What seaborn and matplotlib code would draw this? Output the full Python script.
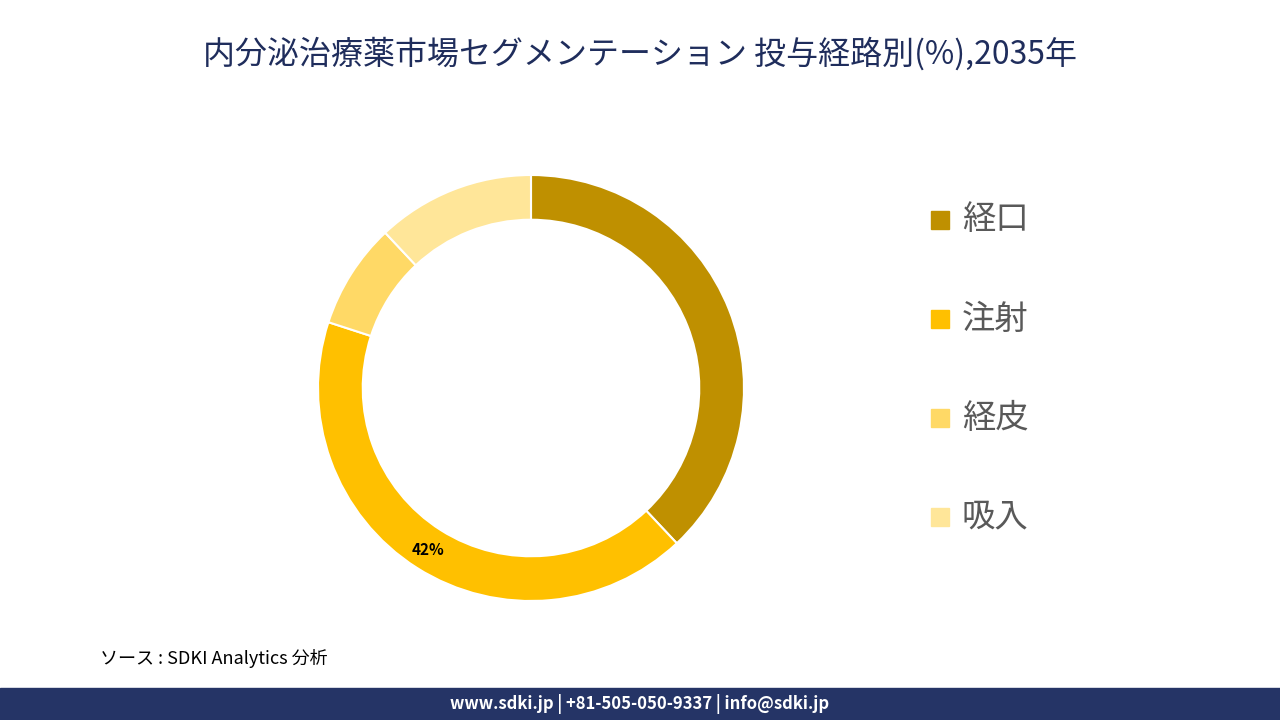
import numpy as np
import matplotlib.pyplot as plt
import seaborn as sns

sns.set_theme(style="white")
plt.rcParams["font.family"] = "Noto Sans CJK JP"

# Data
routes = ["経口", "注射", "経皮", "吸入"]
shares = [38, 42, 8, 12]
colors = ["#BF9000", "#FFC000", "#FFD966", "#FFE699"]

fig = plt.figure(figsize=(12.8, 7.2), dpi=100)

fig.text(0.5, 0.925, "内分泌治療薬市場セグメンテーション 投与経路別(%),2035年",
         ha="center", va="center", fontsize=23, color="#1F2D5C")

# Donut
cx, cy, r = 531, 388, 213
ax = fig.add_axes([(cx - r) / 1280, (720 - cy - r) / 720, 2 * r / 1280, 2 * r / 720])
wedges, _ = ax.pie(shares, colors=colors, startangle=90, counterclock=False, radius=1,
                   wedgeprops=dict(width=0.21, edgecolor="white", linewidth=1.5))
ax.set_xlim(-1, 1)
ax.set_ylim(-1, 1)
ax.set_aspect("equal")
ax.axis("off")

# label only the largest slice
i = int(np.argmax(shares))
w = wedges[i]
ang = np.deg2rad((w.theta1 + w.theta2) / 2)
ax.text(0.9 * np.cos(ang), 0.9 * np.sin(ang), f"{shares[i]}%",
        ha="center", va="center", fontsize=11, fontweight="bold", color="black")

# Legend
for k, (name, c) in enumerate(zip(routes, colors)):
    y = 220 + k * 99
    fig.patches.append(plt.Rectangle((931 / 1280, 1 - (y + 9) / 720), 18 / 1280, 18 / 720,
                                     transform=fig.transFigure, color=c))
    fig.text(962 / 1280, 1 - y / 720, name, ha="left", va="center",
             fontsize=24, color="#595959")

fig.text(100 / 1280, 1 - 658 / 720, "ソース : SDKI Analytics 分析", ha="left", va="center",
         fontsize=13, style="italic", color="black")

# Footer bar
fig.patches.append(plt.Rectangle((0, 0), 1, 32 / 720, transform=fig.transFigure,
                                 color="#253466"))
fig.text(0.5, 16 / 720, "www.sdki.jp | +81-505-050-9337 | info@sdki.jp", ha="center",
         va="center", fontsize=12, fontweight="bold", color="white")

fig.savefig("out.png", dpi=100)
